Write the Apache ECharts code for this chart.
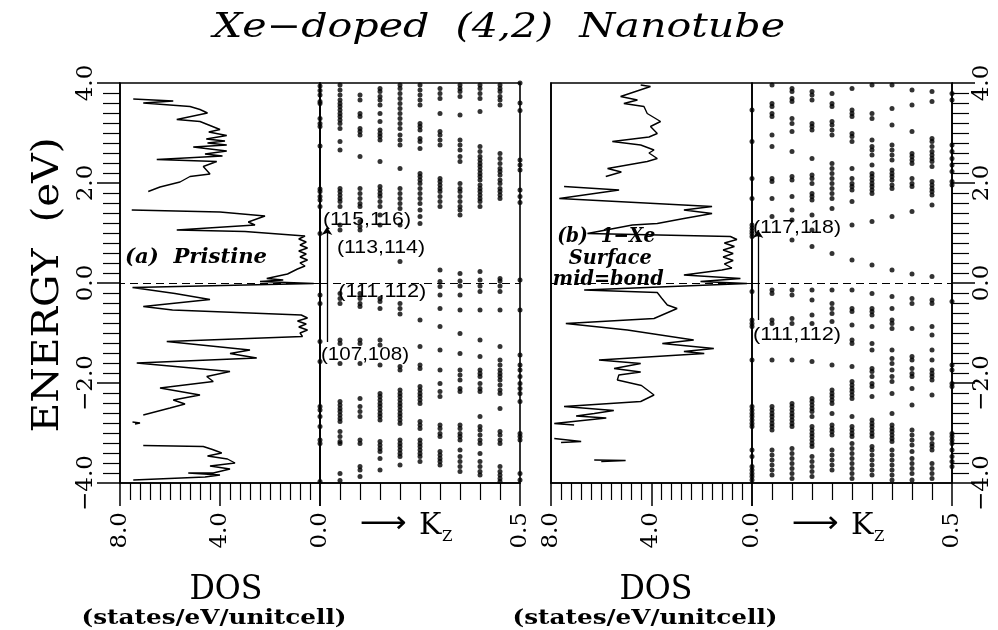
<!DOCTYPE html>
<html><head><meta charset="utf-8">
<script src="https://cdn.jsdelivr.net/npm/echarts@6/dist/echarts.min.js"></script>
<style>html,body{margin:0;padding:0;background:#fff}#c{width:998px;height:630px}</style>
</head><body><div id="c"></div>
<script>
// ---------------- DATA ----------------
const kzPoints = [0, 0.05, 0.1, 0.15, 0.2, 0.25, 0.3, 0.35, 0.4, 0.45, 0.5];
const energyTicks = [-4, -2, 0, 2, 4];

// DOS curves: segments of [DOS, Energy]
const dosPristine = [
  [[7.47,3.68],[5.87,3.64],[7.07,3.60],[5.2,3.53],[4.8,3.47],[4.5,3.40],[5.73,3.27],[4.8,3.23],[4.4,3.15],[4.0,3.07],[4.45,3.02],[3.73,2.95],[4.55,2.88],[3.8,2.84],[4.5,2.80],[3.73,2.76],[5.07,2.72],[3.73,2.64],[4.6,2.58],[3.9,2.54],[6.53,2.47],[4.13,2.43],[4.67,2.33],[4.4,2.18],[5.2,2.13],[5.6,2.02],[6.4,1.92],[6.87,1.83]],
  [[7.53,1.46],[4.0,1.42],[2.2,1.34],[2.87,1.22],[2.6,1.16],[5.73,1.06],[3.0,1.03],[0.6,0.94],[0.85,0.88],[0.55,0.82],[0.8,0.76],[0.5,0.70],[0.85,0.64],[0.55,0.58],[0.8,0.52],[0.5,0.46],[0.8,0.40],[0.6,0.34],[0.9,0.28],[1.3,0.18],[2.13,0.09],[1.47,0.06],[2.4,0.03],[0.25,-0.01],[7.5,-0.09],[5.8,-0.21],[4.4,-0.33],[7.07,-0.47],[5.9,-0.54],[0.75,-0.64],[0.5,-0.70],[0.9,-0.76],[0.55,-0.82],[0.85,-0.88],[0.5,-0.94],[0.8,-1.0],[0.7,-1.07],[6.13,-1.17],[2.8,-1.34],[3.6,-1.41],[2.53,-1.50],[7.33,-1.60],[3.6,-1.77],[4.53,-1.87],[4.27,-1.97],[6.4,-2.10],[4.8,-2.24],[5.87,-2.34],[5.4,-2.42],[6.0,-2.50],[7.07,-2.64]],
  [[7.5,-2.78],[7.2,-2.80],[7.4,-2.82]],
  [[7.07,-3.25],[4.67,-3.27],[4.3,-3.33],[3.93,-3.40],[4.5,-3.46],[3.7,-3.52],[3.4,-3.60],[4.4,-3.66],[3.6,-3.72],[4.27,-3.80],[5.27,-3.80],[4.0,-3.84],[4.6,-3.88],[7.47,-3.94]]
];
const dosXe = [
  [[4.43,3.96],[4.04,3.93],[5.23,3.73],[4.56,3.66],[5.1,3.59],[4.3,3.53],[4.17,3.39],[3.64,3.23],[4.04,3.13],[3.77,2.99],[4.1,2.92],[5.56,2.83],[4.43,2.76],[3.9,2.66],[4.1,2.60],[3.77,2.49],[4.17,2.43],[5.75,2.29],[5.2,2.22],[5.82,2.13]],
  [[7.48,1.93],[5.29,1.86],[7.67,1.69],[1.59,1.53],[2.71,1.46],[1.59,1.39],[2.71,1.29],[3.77,1.19],[4.76,1.16],[6.55,0.99],[0.86,0.93],[0.6,0.87],[1.1,0.80],[0.7,0.73],[1.15,0.66],[0.75,0.59],[1.15,0.52],[0.75,0.45],[1.1,0.38],[0.8,0.30],[1.2,0.26],[2.71,0.16],[0.46,0.09],[2.05,0.03],[0.2,-0.01],[6.68,-0.14],[3.77,-0.19],[3.6,-0.30],[3.37,-0.44],[2.98,-0.51],[3.9,-0.71],[7.41,-0.81],[4.96,-0.94],[2.32,-1.14],[3.57,-1.21],[1.52,-1.31],[2.71,-1.37],[1.9,-1.41],[6.09,-1.54],[4.43,-1.61],[5.49,-1.71],[4.43,-1.78],[5.3,-1.84],[5.36,-1.94],[4.4,-2.05],[3.9,-2.24],[4.43,-2.37],[7.48,-2.47],[5.5,-2.55],[6.28,-2.61],[7.0,-2.66],[5.8,-2.70],[7.87,-2.81],[7.08,-2.84]],
  [[7.87,-3.11],[6.8,-3.17],[7.6,-3.19]],
  [[6.28,-3.54],[5.03,-3.55],[6.0,-3.57]]
];

// band energies (eV) at each kz point
const bandsPristine = [
  [3.94,3.85,3.76,3.63,3.59,3.29,3.19,3.13,2.74,1.88,1.83,1.73,1.66,1.53,0.99,-0.24,-0.41,-1.17,-1.57,-2.47,-2.54,-2.67,-2.87,-3.14,-3.21,-3.97],
  [3.96,3.86,3.76,3.66,3.59,3.53,3.46,3.39,3.33,3.26,3.19,3.09,2.83,2.66,1.89,1.83,1.76,1.69,1.63,1.53,1.16,1.06,-0.21,-0.31,-0.41,-1.14,-1.21,-1.61,-2.37,-2.44,-2.51,-2.57,-2.64,-2.71,-2.77,-2.97,-3.07,-3.17,-3.21,-3.81,-3.95],
  [3.76,3.66,3.39,3.33,3.09,3.03,2.96,2.53,1.89,1.79,1.69,1.59,1.53,1.23,1.13,1.06,-0.21,-0.31,-0.41,-0.47,-1.14,-1.21,-1.61,-2.31,-2.47,-2.57,-2.67,-3.14,-3.21,-3.67,-3.74,-3.87],
  [3.89,3.83,3.73,3.66,3.56,3.39,3.23,3.06,2.99,2.93,2.86,2.43,1.93,1.86,1.79,1.73,1.63,1.53,1.36,1.16,-0.31,-0.37,-0.51,-1.14,-1.24,-1.64,-2.21,-2.27,-2.34,-2.41,-2.47,-2.54,-2.61,-2.67,-2.74,-3.17,-3.24,-3.31,-3.37,-3.51,-3.74],
  [3.96,3.89,3.79,3.69,3.59,3.49,3.39,3.29,3.19,3.09,2.96,2.86,2.76,2.29,1.89,1.79,1.69,1.59,1.49,1.16,0.43,-0.41,-0.51,-0.62,-1.67,-1.74,-2.14,-2.21,-2.27,-2.34,-2.41,-2.47,-2.54,-2.61,-2.67,-2.74,-2.81,-3.14,-3.21,-3.27,-3.34,-3.41,-3.47,-3.64],
  [3.96,3.86,3.76,3.66,3.56,3.19,3.13,3.06,2.89,2.83,2.69,2.19,2.13,2.06,1.99,1.89,1.79,1.69,1.59,1.46,1.33,1.19,-0.74,-1.27,-1.64,-1.71,-2.07,-2.14,-2.21,-2.27,-2.34,-2.41,-2.77,-2.84,-2.91,-3.14,-3.21,-3.27,-3.34,-3.41,-3.47,-3.57],
  [3.89,3.79,3.69,3.39,3.03,2.96,2.86,2.76,2.09,2.03,1.96,1.89,1.83,1.73,1.63,1.53,0.26,0.03,-0.07,-0.24,-0.51,-0.87,-1.34,-1.74,-2.01,-2.17,-2.27,-2.84,-2.91,-3.01,-3.07,-3.37,-3.44,-3.51,-3.57,-3.64],
  [3.96,3.89,3.83,3.73,3.36,2.86,2.76,2.66,2.53,2.43,1.99,1.89,1.83,1.73,1.63,1.53,1.46,1.36,0.19,0.04,-0.06,-0.24,-0.54,-1.01,-1.41,-1.74,-1.84,-1.94,-2.11,-2.17,-2.84,-2.91,-3.01,-3.07,-3.14,-3.34,-3.47,-3.57,-3.67,-3.77],
  [3.96,3.89,3.79,3.69,3.43,2.73,2.63,2.53,2.46,2.39,2.33,2.26,2.19,2.13,2.06,1.96,1.89,1.83,1.76,1.69,1.63,1.53,0.23,0.06,-0.06,-0.17,-0.54,-1.14,-1.47,-1.74,-1.81,-1.87,-2.01,-2.11,-2.17,-2.67,-2.87,-2.94,-3.04,-3.14,-3.21,-3.41,-3.57,-3.67,-3.77,-3.84],
  [3.96,3.89,3.83,3.73,3.66,3.56,2.59,2.49,2.39,2.29,2.23,2.16,2.06,1.99,1.89,1.83,1.76,1.69,0.09,0.04,-0.06,-0.17,-0.54,-1.27,-1.54,-1.64,-1.74,-1.81,-1.87,-1.94,-2.04,-2.14,-2.21,-2.51,-2.97,-3.04,-3.14,-3.21,-3.67,-3.77,-3.84,-3.91,-3.97],
  [4.0,3.6,3.45,2.46,2.36,2.26,1.86,1.73,1.61,0.06,-0.54,-1.44,-1.64,-1.74,-1.87,-2.01,-2.11,-2.21,-2.37,-3.01,-3.07,-3.14,-3.81,-3.94]
];
const bandsXe = [
  [3.46,2.83,2.09,1.69,1.16,1.10,1.04,0.99,0.93,-0.17,-0.74,-0.81,-0.87,-1.54,-2.47,-2.54,-2.61,-2.67,-2.74,-2.81,-2.87,-3.34,-3.47,-3.67,-3.74,-3.81,-3.87,-3.94],
  [3.96,3.59,3.53,3.39,3.33,2.96,2.73,2.09,2.03,1.69,1.33,-0.14,-0.21,-0.74,-0.81,-1.54,-2.47,-2.54,-2.61,-2.67,-2.74,-2.81,-2.87,-2.94,-3.34,-3.44,-3.54,-3.64,-3.74,-3.84],
  [3.89,3.83,3.69,3.63,3.29,3.19,3.03,2.63,2.13,2.06,1.73,1.46,1.26,0.86,-0.14,-0.24,-0.71,-0.81,-1.54,-2.41,-2.47,-2.54,-2.61,-2.67,-2.74,-2.81,-2.87,-3.31,-3.41,-3.51,-3.61,-3.71,-3.81,-3.91],
  [3.83,3.76,3.66,3.19,3.13,3.06,2.49,2.16,2.09,1.99,1.79,1.73,1.66,1.36,1.06,0.73,-0.14,-0.34,-0.64,-0.81,-1.57,-2.31,-2.37,-2.44,-2.51,-2.57,-2.67,-2.87,-2.94,-3.01,-3.07,-3.14,-3.21,-3.27,-3.47,-3.57,-3.67,-3.77,-3.87],
  [3.79,3.59,3.53,3.23,3.16,3.06,2.96,2.39,2.29,2.19,2.09,1.99,1.89,1.79,1.69,1.49,0.59,-0.14,-0.41,-0.51,-0.61,-0.77,-1.64,-2.14,-2.21,-2.27,-2.34,-2.41,-2.61,-2.84,-2.91,-2.97,-3.04,-3.34,-3.44,-3.54,-3.64,-3.74],
  [3.89,3.46,3.39,3.33,2.99,2.93,2.83,2.29,2.09,1.99,1.93,1.86,1.63,1.16,0.46,-0.14,-0.51,-0.57,-0.84,-1.14,-1.21,-1.67,-1.97,-2.04,-2.11,-2.17,-2.24,-2.31,-2.67,-2.87,-2.94,-3.01,-3.07,-3.21,-3.31,-3.41,-3.51,-3.61,-3.71,-3.81,-3.91],
  [3.96,3.39,3.29,2.86,2.73,2.66,2.56,2.36,2.19,2.13,2.06,1.99,1.93,1.86,1.79,1.23,0.36,-0.21,-0.51,-0.57,-0.64,-0.87,-1.21,-1.34,-1.71,-1.77,-1.87,-2.01,-2.07,-2.27,-2.74,-2.81,-2.87,-2.94,-3.01,-3.07,-3.27,-3.34,-3.44,-3.54,-3.64,-3.74,-3.84],
  [3.96,3.49,3.16,2.76,2.66,2.56,2.46,2.26,2.19,2.13,2.06,1.96,1.89,1.33,0.26,-0.27,-0.51,-0.74,-0.81,-0.91,-1.34,-1.51,-1.61,-1.74,-1.87,-1.97,-2.21,-2.61,-2.84,-2.91,-2.97,-3.04,-3.11,-3.17,-3.34,-3.44,-3.54,-3.64,-3.74,-3.84,-3.94],
  [3.86,3.56,3.03,2.59,2.53,2.46,2.39,2.09,1.99,1.93,1.43,0.18,-0.31,-0.41,-0.91,-1.47,-1.54,-1.71,-1.81,-1.87,-2.11,-2.44,-2.94,-3.04,-3.14,-3.24,-3.37,-3.51,-3.61,-3.71,-3.81,-3.94],
  [3.83,3.63,2.89,2.83,2.73,2.63,2.56,2.49,2.43,2.33,2.03,1.96,1.89,1.83,1.76,1.56,0.13,-0.34,-0.41,-0.87,-1.04,-1.34,-1.54,-1.74,-1.81,-1.87,-1.94,-2.24,-3.01,-3.11,-3.21,-3.27,-3.34,-3.61,-3.71,-3.81,-3.91],
  [3.79,3.66,2.76,2.63,2.49,2.36,2.23,2.03,1.96,-0.37,-1.64,-1.74,-2.01,-2.07,-3.01,-3.07,-3.14,-3.21,-3.34,-3.47,-3.57,-3.67]
];

// state labels [text, kz, E] and transition arrows [kz, E from, E to]
const stateLabelsA = [['(115,116)',0.005,1.26],['(113,114)',0.04,0.70],['(111,112)',0.043,-0.18],['(107,108)',0.0,-1.44]];
const stateLabelsB = [['(117,118)',0.0,1.10],['(111,112)',0.0,-1.04]];
const transitionA = [0.0175, -1.18, 1.12];
const transitionB = [0.015, -0.74, 1.06];

// ---------------- CHART ----------------
const BLACK = '#000';
const SERIF = '"DejaVu Serif"';
const fmt = v => (v < 0 ? '\u2212' + (-v).toFixed(1) : v.toFixed(1));

const grids = [
  {left:120, top:83, width:200, height:400},
  {left:320, top:83, width:200, height:400},
  {left:551, top:83, width:201, height:400},
  {left:752, top:83, width:200, height:400}
].map(g => Object.assign(g, {show:true, borderColor:BLACK, borderWidth:1.6, backgroundColor:'transparent', containLabel:false, outerBoundsMode:'none'}));

function tickCfg(show){
  return {
    axisTick:{show:show, length:23, lineStyle:{color:BLACK, width:1.5}},
    minorTick:{show:show, splitNumber:10, length:17, lineStyle:{color:BLACK, width:1.2}},
    splitLine:{show:false}, minorSplitLine:{show:false}
  };
}
function xAxisCfg(grid, max, interval, hideZero){
  return Object.assign({
    type:'value', gridIndex:grid, position:'bottom', min:0, max:max, interval:interval,
    inverse: max === 8,
    axisLine:{show:true, onZero:false, lineStyle:{color:BLACK, width:1.6}},
    axisLabel:{show:true, rotate:90, margin:29, showMinLabel:true, showMaxLabel:true,
      fontFamily:SERIF, fontSize:23, color:BLACK,
      formatter: v => (hideZero && v === 0) ? '' : fmt(v)}
  }, tickCfg(true));
}
function yAxisCfg(grid, pos, show){
  return Object.assign({
    type:'value', gridIndex:grid, position:pos, min:energyTicks[0], max:energyTicks[energyTicks.length-1], interval:2,
    axisLine:{show:true, onZero:false, lineStyle:{color:BLACK, width:1.6}},
    axisLabel:{show:show, rotate:90, margin: pos === 'left' ? 22 : 19, showMinLabel:true, showMaxLabel:true,
      fontFamily:SERIF, fontSize:23, color:BLACK, formatter: fmt}
  }, tickCfg(show));
}

const zeroLine = {silent:true, symbol:['none','none'], label:{show:false},
  lineStyle:{color:BLACK, width:1.2, type:[8,5]}, data:[{yAxis:0}]};

function dosSeries(segs, axis){
  return segs.map((seg, i) => ({
    type:'line', xAxisIndex:axis, yAxisIndex:axis, data:seg, showSymbol:false, symbol:'none',
    lineStyle:{color:BLACK, width:1.4}, silent:true, animation:false,
    markLine: i === 0 ? zeroLine : undefined
  }));
}
function bandSeries(bands, axis, tr){
  const data = [];
  bands.forEach((col, i) => col.forEach(e => data.push([kzPoints[i], e])));
  return {
    type:'scatter', xAxisIndex:axis, yAxisIndex:axis, data:data, symbolSize:5,
    itemStyle:{color:BLACK}, silent:true, animation:false,
    markLine:{silent:true, animation:false, label:{show:false}, symbol:['none','none'],
      data:[
        {yAxis:0, lineStyle:{color:BLACK, width:1.2, type:[8,5]}},
        [{coord:[tr[0], tr[1]], symbol:'none'}, {coord:[tr[0], tr[2]], symbol:'arrow', symbolSize:8,
          lineStyle:{color:BLACK, width:1.3, type:'solid'}}]
      ],
      lineStyle:{color:BLACK, width:1.3}
    }
  };
}

const chart = echarts.init(document.getElementById('c'), null, {renderer:'canvas'});
chart.setOption({
  animation:false,
  backgroundColor:'#fff',
  grid: grids,
  xAxis:[xAxisCfg(0, 8, 4, false), xAxisCfg(1, 0.5, 0.5, true), xAxisCfg(2, 8, 4, false), xAxisCfg(3, 0.5, 0.5, true)],
  yAxis:[yAxisCfg(0,'left',true), yAxisCfg(1,'left',false), yAxisCfg(2,'left',false), yAxisCfg(3,'right',true)],
  series:[].concat(dosSeries(dosPristine,0), [bandSeries(bandsPristine,1,transitionA)],
                   dosSeries(dosXe,2), [bandSeries(bandsXe,3,transitionB)])
});

// ---------------- TEXT ----------------
const mctx = document.createElement('canvas').getContext('2d');
function scaleTo(text, font, w){ mctx.font = font; return w / mctx.measureText(text).width; }
function txt(text, font, x, y, opts){
  opts = opts || {};
  const el = {type:'text', x:x, y:y, z:100, silent:true,
    style:{text:text, font:font, fill:BLACK, textAlign:opts.align || 'center', textVerticalAlign:'middle'}};
  if (opts.width) el.scaleX = scaleTo(text, font, opts.width);
  if (opts.rotation) el.rotation = opts.rotation;
  return el;
}
const px = (g, p) => chart.convertToPixel({gridIndex:g}, p);
const g = [];
g.push(txt('Xe\u2212doped  (4,2)  Nanotube', 'italic 33px ' + SERIF, 499, 28, {width:572}));
g.push(txt('ENERGY  (eV)', '38px ' + SERIF, 48, 285, {width:295, rotation:Math.PI/2}));
[[226,214],[656,645]].forEach(([cx, ux]) => {
  g.push(txt('DOS', '34px ' + SERIF, cx, 590, {width:73}));
  g.push(txt('(states/eV/unitcell)', 'bold 20px ' + SERIF, ux, 619, {width:265}));
});
[[1],[3]].forEach(([gi]) => {
  const o = px(gi, [0, 0]);
  g.push(txt('\u27F6', '30px "DejaVu Sans"', o[0] + 63, 524, {width:47}));
  g.push(txt('K', '30px ' + SERIF, o[0] + 99, 526, {align:'left'}));
  g.push(txt('Z', '15px ' + SERIF, o[0] + 122, 537, {align:'left'}));
});
const pa = px(0, [7.8, 0.5]);
g.push(txt('(a)  Pristine', 'italic bold 20px ' + SERIF, pa[0], pa[1], {align:'left', width:142}));
const pb = px(2, [5.8, 0]);
g.push(txt('(b)  1\u2212Xe', 'italic bold 20px ' + SERIF, pb[0], pb[1] - 46, {width:98}));
g.push(txt('Surface', 'italic bold 20px ' + SERIF, pb[0] + 4, pb[1] - 24, {width:83}));
g.push(txt('mid=bond', 'italic bold 20px ' + SERIF, pb[0] + 2, pb[1] - 3, {width:111}));
stateLabelsA.forEach(([t, k, e]) => { const p = px(1, [k, e]); g.push(txt(t, '19px "Liberation Sans"', p[0] + 1, p[1], {align:'left', width:88})); });
stateLabelsB.forEach(([t, k, e]) => { const p = px(3, [k, e]); g.push(txt(t, '19px "Liberation Sans"', p[0] + 1, p[1], {align:'left', width:88})); });
chart.setOption({graphic:{elements:g}});
</script></body></html>
